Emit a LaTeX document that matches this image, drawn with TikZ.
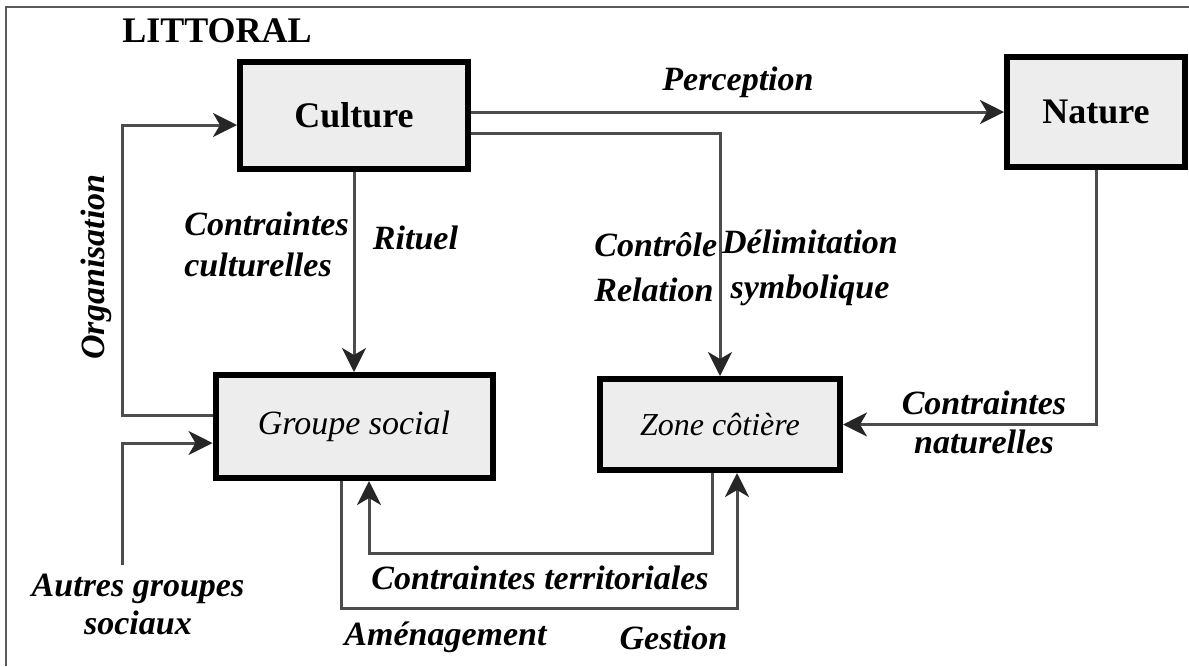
\documentclass[tikz,border=0pt]{standalone}
\usepackage{fontspec}
\setmainfont{Liberation Serif}
\usetikzlibrary{arrows.meta}

\tikzset{
  box/.style={draw=black, line width=3pt, fill=black!7, inner sep=0pt},
  flow/.style={draw=black!70, line width=1.5pt, -{Stealth[length=12pt, width=12pt, inset=3.5pt, black!85]}},
  lbl/.style={font=\fontsize{17}{20}\selectfont\bfseries\itshape, inner sep=0pt}
}

\begin{document}
\begin{tikzpicture}[x=0.5pt, y=-0.5pt]
      \useasboundingbox (0,0) rectangle (1189,666);
      \draw[black!65, line width=1pt] (6,666) -- (6,7) -- (1189,7);
      \node[font=\fontsize{18}{20}\selectfont\bfseries, inner sep=0pt] (littoral) at (217,31) {LITTORAL};

      \node[box, minimum width=114pt, minimum height=53.5pt, font=\fontsize{18}{20}\selectfont\bfseries] (culture) at (354,115.5) {Culture};
      \node[box, minimum width=89pt, minimum height=55pt, font=\fontsize{18}{20}\selectfont\bfseries] (nature) at (1096,112) {Nature};
      \node[box, minimum width=138.5pt, minimum height=51.5pt, font=\fontsize{17}{20}\selectfont\itshape] (groupe) at (354,426.5) {Groupe social};
      \node[box, minimum width=120pt, minimum height=45.5pt, font=\fontsize{16}{20}\selectfont\itshape] (zone) at (720,424.5) {Zone côtière};

      \coordinate (cz) at (0,133);
      \coordinate (org) at (122,125);
      \coordinate (orgS) at (122,415);
      \coordinate (autres) at (122,565);
      \coordinate (ag) at (0,443);
      \coordinate (ctA) at (712,553);
      \coordinate (ctB) at (369,553);
      \coordinate (amA) at (341,608);
      \coordinate (amB) at (737,608);

      \draw[flow] (culture.east |- nature.west) -- (nature.west);
      \draw[flow] (culture.east |- cz) -| (zone.north);
      \draw[flow] (culture.south) -- (culture.south |- groupe.north);
      \draw[flow] (groupe.west |- orgS) -- (orgS) -- (org) -- (culture.west |- org);
      \draw[flow] (autres) |- (groupe.west |- ag);
      \draw[flow] (nature.south) |- (zone.east);
      \draw[flow] (ctA |- zone.south) -- (ctA) -- (ctB) -- (ctB |- groupe.south);
      \draw[flow] (amA |- groupe.south) -- (amA) -- (amB) -- (amB |- zone.south);

      \node[lbl] (perception) at (738,82) {Perception};
      \node[lbl, anchor=west, align=left] (ccult) at (184,244.5) {Contraintes\\[0.5pt]culturelles};
      \node[lbl] (rituel) at (415.5,238) {Rituel};
      \node[lbl, rotate=90] (organisation) at (96,267) {Organisation};
      \node[lbl, anchor=west, align=left] (controle) at (594,267.5) {Contrôle\\[2.5pt]Relation};
      \node[lbl, align=center] (delim) at (810,267.5) {Délimitation\\[2.5pt]symbolique};
      \node[lbl, align=center] (cnat) at (984,422.5) {Contraintes\\[-0.5pt]naturelles};
      \node[lbl] (cterr) at (540,578) {Contraintes territoriales};
      \node[lbl] (amenagement) at (445.5,637) {Aménagement};
      \node[lbl] (gestion) at (673.5,638) {Gestion};
      \node[lbl, align=center] (autresg) at (138,604) {Autres groupes\\[-1pt]sociaux};
    \end{tikzpicture}
\end{document}
